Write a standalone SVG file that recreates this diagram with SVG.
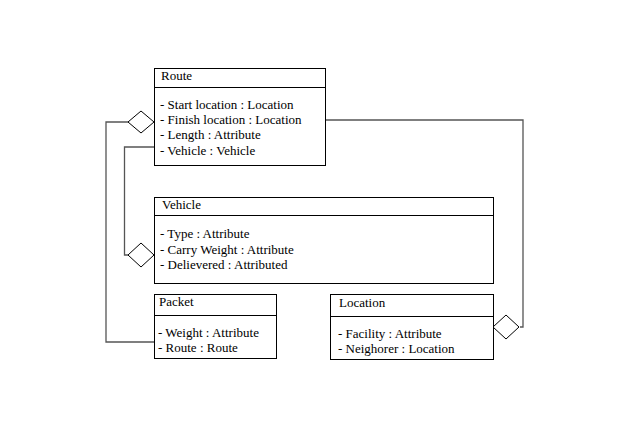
<svg xmlns="http://www.w3.org/2000/svg" width="636" height="437" viewBox="0 0 636 437">
<style>
.box{fill:#fff;stroke:#000;stroke-width:1}
.sep{stroke:#000;stroke-width:1}
.t{font-family:"Liberation Serif","Times New Roman",serif;font-size:13px;fill:#000}
.c{fill:none;stroke:#555;stroke-width:1.3}
.d{fill:#fff;stroke:#000;stroke-width:1}
</style>
<rect width="636" height="437" fill="#fff"/>
<g id="connectors">
<polyline class="c" points="128,122 106,122 106,342 154,342"/>
<polyline class="c" points="154,147 124.5,147 124.5,255 128,255"/>
<polyline class="c" points="325,120 523,120 523,327 520,327"/>
<polygon class="d" points="128,122 141,111 154,122 141,133"/>
<polygon class="d" points="128,255 141,243 154,255 141,267"/>
<polygon class="d" points="493,327 506,315 519,327 506,339"/>
</g>
<g id="route">
<rect class="box" x="154.5" y="68.5" width="171" height="97"/>
<line class="sep" x1="154.5" y1="87.5" x2="325.5" y2="87.5"/>
<text class="t" x="161" y="80">Route</text>
<text class="t" x="160" y="109">- Start location : Location</text>
<text class="t" x="160" y="124">- Finish location : Location</text>
<text class="t" x="160" y="139">- Length : Attribute</text>
<text class="t" x="160" y="155">- Vehicle : Vehicle</text>
</g>
<g id="vehicle">
<rect class="box" x="154.5" y="197.5" width="339" height="86"/>
<line class="sep" x1="154.5" y1="215.5" x2="493.5" y2="215.5"/>
<text class="t" x="162" y="209">Vehicle</text>
<text class="t" x="160" y="238">- Type : Attribute</text>
<text class="t" x="160" y="254">- Carry Weight : Attribute</text>
<text class="t" x="160" y="269">- Delievered : Attributed</text>
</g>
<g id="packet">
<rect class="box" x="154.5" y="294.5" width="122" height="64"/>
<line class="sep" x1="154.5" y1="315.5" x2="276.5" y2="315.5"/>
<text class="t" x="159" y="306">Packet</text>
<text class="t" x="158" y="337">- Weight : Attribute</text>
<text class="t" x="158" y="352">- Route : Route</text>
</g>
<g id="location">
<rect class="box" x="330.5" y="294.5" width="163" height="65"/>
<line class="sep" x1="330.5" y1="316.5" x2="493.5" y2="316.5"/>
<text class="t" x="339" y="307">Location</text>
<text class="t" x="338" y="338">- Facility : Attribute</text>
<text class="t" x="338" y="353">- Neighorer : Location</text>
</g>
</svg>
